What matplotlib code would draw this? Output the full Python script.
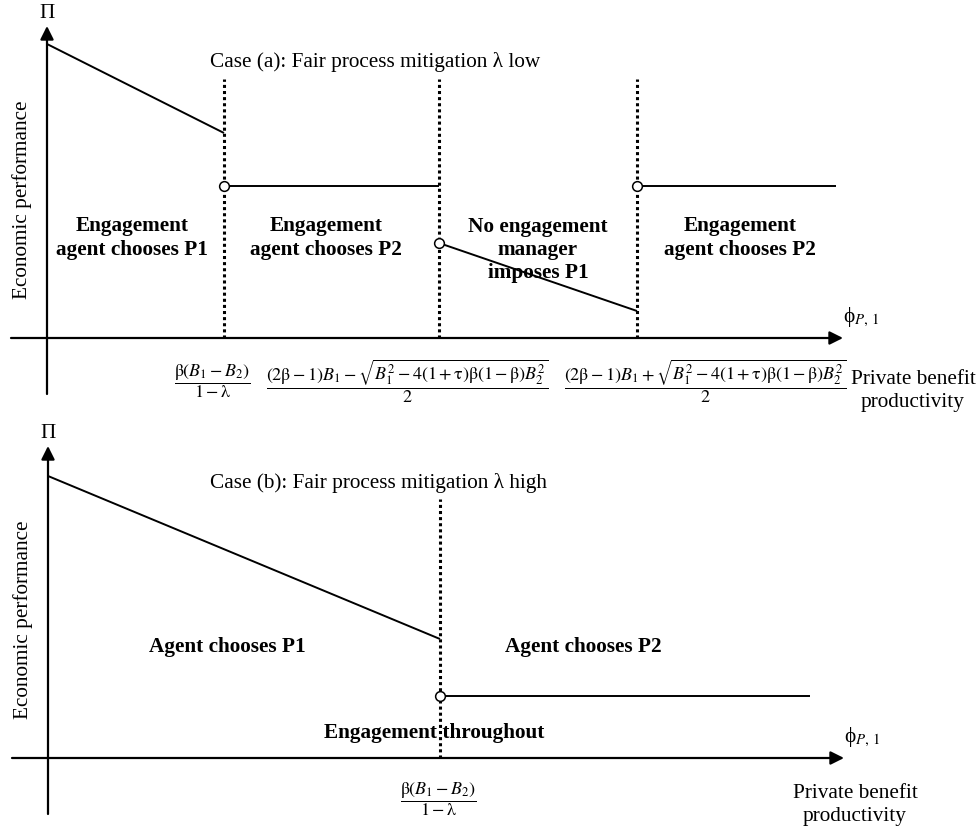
import matplotlib
matplotlib.use("Agg")
import matplotlib.pyplot as plt

plt.rcParams['font.family'] = ['Liberation Serif', 'DejaVu Serif']
plt.rcParams['mathtext.fontset'] = 'stix'

# panel (a): fair process mitigation low
a_breaks = [177, 392, 590]
a_p1_line = ([0, 177], [294, 205])
a_p2_level = ([177, 392], [152, 152])
a_imposed_line = ([392, 590], [95, 27])
a_p2b_level = ([590, 789], [152, 152])
a_regions = ["Engagement\nagent chooses P1", "Engagement\nagent chooses P2",
             "No engagement\nmanager\nimposes P1", "Engagement\nagent chooses P2"]
a_region_x = [85, 279, 491, 693]
a_region_y = [101, 101, 89, 101]
a_ticks = [r'$\dfrac{\mathrm{\beta}(B_1 - B_2)}{1-\mathrm{\lambda}}$',
           r'$\dfrac{(2\mathrm{\beta}-1)B_1-\sqrt{B_1^2-4(1+\mathrm{\tau})\mathrm{\beta}(1-\mathrm{\beta})B_2^2}}{2}$',
           r'$\dfrac{(2\mathrm{\beta}-1)B_1+\sqrt{B_1^2-4(1+\mathrm{\tau})\mathrm{\beta}(1-\mathrm{\beta})B_2^2}}{2}$']
a_tick_x = [165, 360, 658]

# panel (b): fair process mitigation high
b_break = 392
b_p1_line = ([0, 392], [282, 119])
b_p2_level = ([392, 762], [62, 62])
b_regions = ["Agent chooses P1", "Agent chooses P2", "Engagement throughout"]
b_region_x = [179, 535, 386]
b_region_y = [112, 112, 26]
b_tick = r'$\dfrac{\mathrm{\beta}(B_1 - B_2)}{1-\mathrm{\lambda}}$'

FS = 15.3
MFS = 13

fig = plt.figure(figsize=(9.79, 8.29), dpi=100)
ax_a = fig.add_axes([0, 409 / 829, 1, 420 / 829])
ax_b = fig.add_axes([0, 0, 1, 409 / 829])


def draw_axes(ax, ylim, xlim):
  ax.set_xlim(*xlim)
  ax.set_ylim(*ylim)
  ax.axis('off')
  arr = dict(arrowstyle='-|>', lw=1.6, color='k', mutation_scale=20,
             shrinkA=0, shrinkB=0)
  ax.annotate('', xy=(796, 0), xytext=(-36, 0), arrowprops=arr)
  ax.annotate('', xy=(0, 312), xytext=(0, -56), arrowprops=arr)
  ax.text(0, 325, 'Π', fontsize=FS, ha='center', va='center')
  ax.text(796, 22, r'ϕ$_{P,\,1}$', fontsize=FS, ha='left', va='center')
  ax.text(-25, 139, 'Economic performance', fontsize=FS, rotation=90,
          ha='center', va='center')


def step(ax, seg, circle_start=False):
  ax.plot(seg[0], seg[1], color='k', lw=1.4, solid_capstyle='butt', zorder=3)
  if circle_start:
    ax.plot(seg[0][0], seg[1][0], 'o', ms=7, mfc='white', mec='k', mew=1.1,
            zorder=4)


# ---- panel (a)
draw_axes(ax_a, (-81, 339), (-47, 932))
for bx in a_breaks:
  ax_a.plot([bx, bx], [0, 259], color='k', lw=2.2, ls=(0, (1, 1)), zorder=2)
step(ax_a, a_p1_line)
step(ax_a, a_p2_level, True)
step(ax_a, a_imposed_line, True)
step(ax_a, a_p2b_level, True)
ax_a.text(163, 277, 'Case (a): Fair process mitigation λ low', fontsize=FS,
          ha='left', va='center')
for lab, x, y in zip(a_regions, a_region_x, a_region_y):
  ax_a.text(x, y, lab, fontsize=FS, fontweight='bold', ha='center',
            va='center', linespacing=1.22)
for lab, x in zip(a_ticks, a_tick_x):
  ax_a.text(x, -42, lab, fontsize=MFS, ha='center', va='center')
ax_a.text(866, -52, 'Private benefit\nproductivity', fontsize=FS,
          ha='center', va='center', linespacing=1.22)

# ---- panel (b)
draw_axes(ax_b, (-70, 339), (-48, 931))
ax_b.plot([b_break, b_break], [0, 259], color='k', lw=2.2, ls=(0, (1, 1)),
          zorder=2)
step(ax_b, b_p1_line)
step(ax_b, b_p2_level, True)
ax_b.text(162, 276, 'Case (b): Fair process mitigation λ high', fontsize=FS,
          ha='left', va='center')
for lab, x, y in zip(b_regions, b_region_x, b_region_y):
  ax_b.text(x, y, lab, fontsize=FS, fontweight='bold', ha='center',
            va='center')
ax_b.text(390, -40, b_tick, fontsize=MFS, ha='center', va='center')
ax_b.text(807, -46, 'Private benefit\nproductivity', fontsize=FS,
          ha='center', va='center', linespacing=1.22)

fig.savefig('out.png', dpi=100)
